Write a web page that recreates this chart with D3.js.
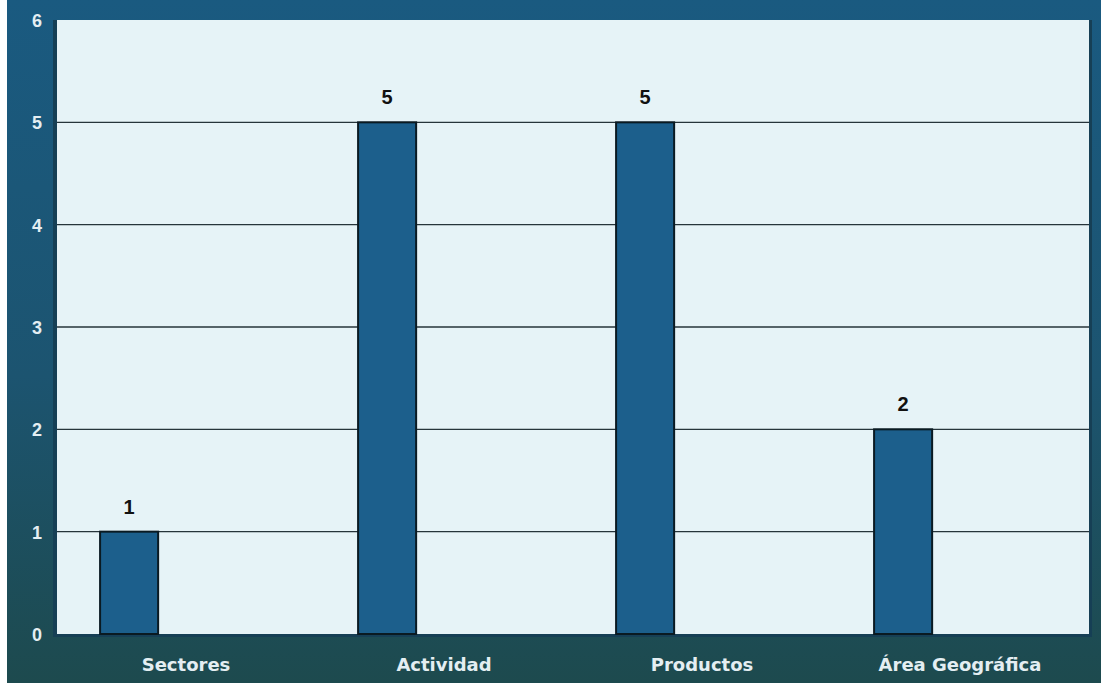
<!DOCTYPE html>
<html><head><meta charset="utf-8">
<script src="https://cdn.jsdelivr.net/npm/d3@7"></script>
<style>body{margin:0;background:#fff}svg{display:block}</style>
</head><body>
<script>
const categories = ["Sectores", "Actividad", "Productos", "Área Geográfica"];
const values = [1, 5, 5, 2];
const yTicks = [0, 1, 2, 3, 4, 5, 6];

(function () {
const W = 1101, H = 683;
const svg = d3.select("body").append("svg").attr("width", W).attr("height", H);
const defs = svg.append("defs");
const g = defs.append("linearGradient").attr("id", "bg").attr("x1", 0).attr("y1", 0).attr("x2", 0).attr("y2", 1);
g.append("stop").attr("offset", "0%").attr("stop-color", "#1a5a80");
g.append("stop").attr("offset", "55%").attr("stop-color", "#1c5470");
g.append("stop").attr("offset", "100%").attr("stop-color", "#1d4a4e");
svg.append("rect").attr("x", 7).attr("y", 0).attr("width", W - 7).attr("height", H).attr("fill", "url(#bg)");

const pL = 57, pR = 1089, pT = 20, pB = 634;
const x = d3.scaleBand().domain(categories).range([pL, pR]).padding(0);
const y = d3.scaleLinear().domain([0, 6]).range([pB, pT]);

// wall edge
svg.append("rect").attr("x", pL - 4).attr("y", pT).attr("width", 4).attr("height", pB - pT + 3).attr("fill", "#163f55");
svg.append("rect").attr("x", pL).attr("y", pT).attr("width", pR - pL).attr("height", pB - pT).attr("fill", "#e6f3f7");
svg.append("rect").attr("x", pR).attr("y", pT).attr("width", 3).attr("height", pB - pT + 3).attr("fill", "#163f55");
svg.append("rect").attr("x", pL - 4).attr("y", pB).attr("width", pR - pL + 7).attr("height", 3).attr("fill", "#163f55");

// gridlines
svg.append("g").selectAll("line").data(yTicks.filter(t => t > 0 && t < 6)).join("line")
  .attr("x1", pL).attr("x2", pR)
  .attr("y1", d => y(d)).attr("y2", d => y(d))
  .attr("stroke", "#26343a").attr("stroke-width", 1.3);

// y axis labels
const yAxis = d3.axisLeft(y).tickValues(yTicks).tickSize(0).tickPadding(0).tickFormat(d3.format("d"));
const ya = svg.append("g").attr("transform", `translate(${pL - 15},0)`).call(yAxis);
ya.select(".domain").remove();
ya.selectAll("text").attr("fill", "#e4eef2").attr("font-family", "Liberation Sans, Arial, sans-serif")
  .attr("font-weight", "bold").attr("font-size", 18).attr("dy", "0.36em");

// bars
const bw = x.bandwidth() * 0.225, boff = x.bandwidth() * 0.167;
svg.append("g").selectAll("rect").data(values).join("rect")
  .attr("x", (d, i) => x(categories[i]) + boff)
  .attr("width", bw)
  .attr("y", d => y(d))
  .attr("height", d => y(0) - y(d))
  .attr("fill", "#1c5f8c").attr("stroke", "#0a1a22").attr("stroke-width", 2);

// value labels
svg.append("g").selectAll("text").data(values).join("text")
  .attr("x", (d, i) => x(categories[i]) + boff + bw / 2)
  .attr("y", d => y(d) - 18)
  .attr("text-anchor", "middle")
  .attr("font-family", "Liberation Sans, Arial, sans-serif").attr("font-weight", "bold").attr("font-size", 20)
  .attr("fill", "#111").text(d => d);

// x axis labels
const xAxis = d3.axisBottom(x).tickSize(0).tickPadding(0);
const xa = svg.append("g").attr("transform", `translate(0,${pB + 24})`).call(xAxis);
xa.select(".domain").remove();
xa.selectAll("text").attr("fill", "#e4eef2").attr("font-family", "DejaVu Sans, sans-serif")
  .attr("font-weight", "bold").attr("font-size", 18);
})();
</script>
</body></html>
